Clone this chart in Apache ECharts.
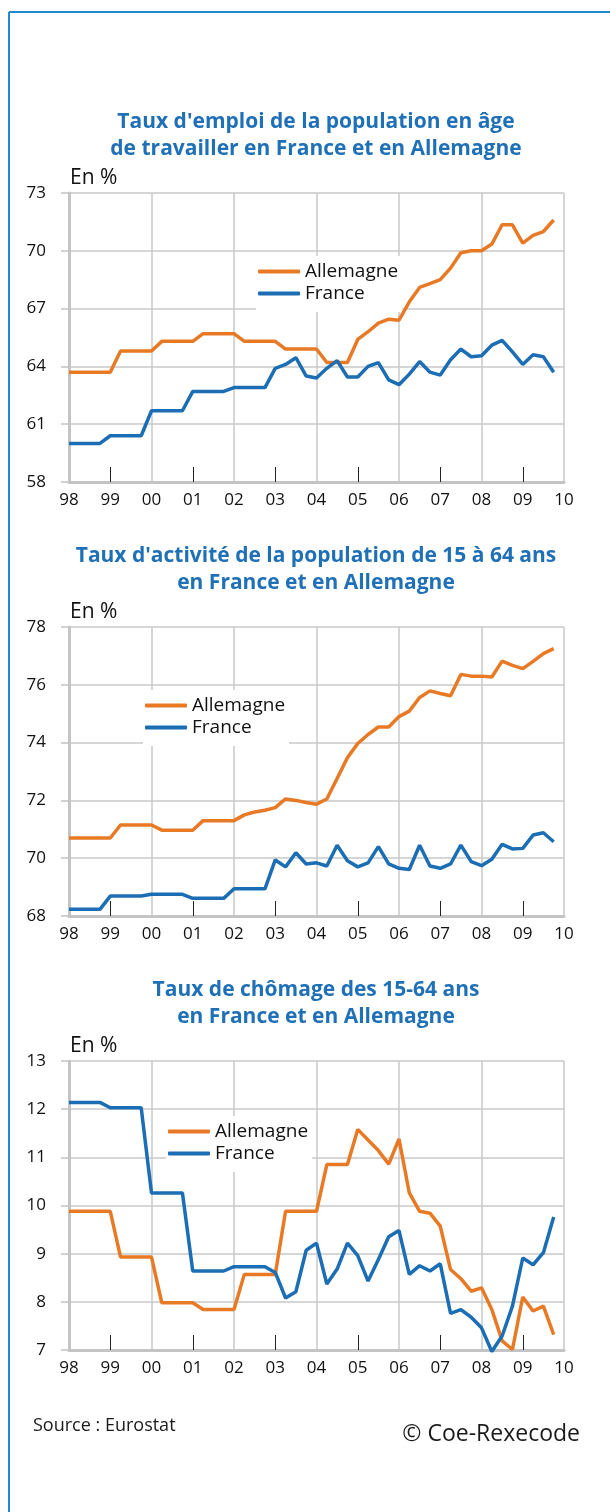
<!DOCTYPE html>
<html>
<head>
<meta charset="utf-8">
<script src="https://cdn.jsdelivr.net/npm/echarts@6/dist/echarts.min.js"></script>
<style>
  html, body { margin: 0; padding: 0; background: #fff; }
  #chart { width: 610px; height: 1512px; }
</style>
</head>
<body>
<div id="chart"></div>
<script>
// années affichées sur l'axe, données trimestrielles 1998T1 - 2009T4
var years = ['98', '99', '00', '01', '02', '03', '04', '05', '06', '07', '08', '09', '10'];

// Taux d'emploi 15-64 ans
var emploiAllemagne = [63.7, 63.7, 63.7, 63.7, 63.7, 64.8, 64.8, 64.8, 64.8, 65.3, 65.3, 65.3,
    65.3, 65.7, 65.7, 65.7, 65.7, 65.3, 65.3, 65.3, 65.3, 64.9, 64.9, 64.9,
    64.9, 64.2, 64.2, 64.2, 65.4, 65.8, 66.25, 66.45, 66.4, 67.35, 68.1, 68.3,
    68.5, 69.1, 69.9, 70.0, 70.0, 70.35, 71.35, 71.35, 70.4, 70.8, 71.0, 71.6];
var emploiFrance = [60.0, 60.0, 60.0, 60.0, 60.4, 60.4, 60.4, 60.4, 61.7, 61.7, 61.7, 61.7,
    62.7, 62.7, 62.7, 62.7, 62.9, 62.9, 62.9, 62.9, 63.9, 64.1, 64.45, 63.5,
    63.4, 63.9, 64.3, 63.45, 63.45, 64.0, 64.2, 63.3, 63.05, 63.6, 64.25, 63.7,
    63.55, 64.35, 64.9, 64.5, 64.55, 65.1, 65.35, 64.75, 64.1, 64.6, 64.5, 63.7];

// Taux d'activité 15-64 ans
var activiteAllemagne = [70.7, 70.7, 70.7, 70.7, 70.7, 71.15, 71.15, 71.15, 71.15, 70.97, 70.97, 70.97,
    70.97, 71.3, 71.3, 71.3, 71.3, 71.5, 71.6, 71.66, 71.75, 72.05, 72.0, 71.93,
    71.87, 72.05, 72.76, 73.48, 73.97, 74.28, 74.54, 74.54, 74.9, 75.09, 75.56, 75.79,
    75.7, 75.62, 76.36, 76.3, 76.3, 76.27, 76.82, 76.67, 76.56, 76.81, 77.08, 77.25];
var activiteFrance = [68.23, 68.23, 68.23, 68.23, 68.69, 68.69, 68.69, 68.69, 68.75, 68.75, 68.75, 68.75,
    68.61, 68.61, 68.61, 68.61, 68.94, 68.94, 68.94, 68.94, 69.94, 69.7, 70.19, 69.8,
    69.84, 69.73, 70.45, 69.91, 69.7, 69.84, 70.4, 69.8, 69.65, 69.61, 70.45, 69.73,
    69.65, 69.8, 70.45, 69.88, 69.74, 69.96, 70.48, 70.32, 70.34, 70.8, 70.88, 70.57];

// Taux de chômage 15-64 ans
var chomageAllemagne = [9.88, 9.88, 9.88, 9.88, 9.88, 8.93, 8.93, 8.93, 8.93, 7.98, 7.98, 7.98,
    7.98, 7.84, 7.84, 7.84, 7.84, 8.57, 8.57, 8.57, 8.57, 9.88, 9.88, 9.88,
    9.88, 10.85, 10.85, 10.85, 11.58, 11.36, 11.14, 10.86, 11.38, 10.26, 9.88, 9.84,
    9.57, 8.67, 8.48, 8.22, 8.29, 7.84, 7.19, 7.01, 8.1, 7.81, 7.91, 7.32];
var chomageFrance = [12.14, 12.14, 12.14, 12.14, 12.03, 12.03, 12.03, 12.03, 10.26, 10.26, 10.26, 10.26,
    8.64, 8.64, 8.64, 8.64, 8.73, 8.73, 8.73, 8.73, 8.61, 8.08, 8.21, 9.07,
    9.22, 8.37, 8.68, 9.22, 8.96, 8.43, 8.88, 9.35, 9.48, 8.57, 8.75, 8.64,
    8.79, 7.76, 7.84, 7.68, 7.46, 6.97, 7.29, 7.91, 8.91, 8.77, 9.02, 9.76];

var titles = [
    "Taux d'emploi de la population en âge\nde travailler en France et en Allemagne",
    "Taux d'activité de la population de 15 à 64 ans\nen France et en Allemagne",
    "Taux de chômage des 15-64 ans\nen France et en Allemagne"
];

// categories trimestrielles
var quarters = [];
years.forEach(function (y, i) {
    quarters.push(y);
    if (i < years.length - 1) quarters.push(y + 'T2', y + 'T3', y + 'T4');
});

var ORANGE = '#e87a26';
var BLUE = '#1b6db4';
var TITLE_BLUE = '#1f70b6';
var GRID_GREY = '#c9c9c9';
var FONT = '"Open Sans", sans-serif';

var gridTops = [193, 627, 1061];
var gridH = 289;
var legendPos = [[256, 256], [143, 690], [166, 1116]];

function makeX(idx) {
    return {
        type: 'category', gridIndex: idx, data: quarters, boundaryGap: false,
        axisLine: { lineStyle: { color: '#c4c4c4', width: 3 } },
        axisTick: {
            inside: true, length: 15,
            interval: function (i) { return i % 8 === 4; },
            lineStyle: { color: '#222', width: 1 }
        },
        axisLabel: {
            interval: function (i) { return i % 4 === 0; },
            margin: 10, color: '#111', fontSize: 17, fontFamily: FONT
        },
        splitLine: {
            show: true,
            interval: function (i) { return i % 8 === 0; },
            lineStyle: { color: GRID_GREY, width: 1.5 }
        }
    };
}

function makeY(idx, min, max, step) {
    return {
        type: 'value', gridIndex: idx, min: min, max: max, interval: step,
        axisLine: { show: true, lineStyle: { color: '#c4c4c4', width: 3 } },
        axisTick: { show: true, length: 8, lineStyle: { color: '#c4c4c4', width: 1.5 } },
        axisLabel: { margin: 23, color: '#111', fontSize: 17, fontFamily: FONT },
        splitLine: { lineStyle: { color: GRID_GREY, width: 1.5 } }
    };
}

function makeSeries(name, data, idx, color) {
    return {
        name: name, type: 'line', data: data,
        xAxisIndex: idx, yAxisIndex: idx,
        symbol: 'none', clip: false,
        lineStyle: { color: color, width: 3.5 },
        itemStyle: { color: color },
        z: 6
    };
}

var graphics = [
    { type: 'line', shape: { x1: 9, y1: 12, x2: 610, y2: 12 }, style: { stroke: '#2188d2', lineWidth: 2 } },
    { type: 'line', shape: { x1: 9, y1: 12, x2: 9, y2: 1512 }, style: { stroke: '#2188d2', lineWidth: 2 } },
    { type: 'text', left: 33, top: 1417, style: { text: 'Source : Eurostat', font: '18px ' + FONT, fill: '#1a1a1a' } },
    { type: 'text', right: 30, top: 1423, style: { text: '© Coe-Rexecode', font: '23px ' + FONT, fill: '#1a1a1a' } }
];
titles.forEach(function (t, i) {
    graphics.push({
        type: 'text', x: 316, y: gridTops[i] - 84,
        style: { text: t, font: 'bold 21px ' + FONT, fill: TITLE_BLUE, textAlign: 'center', lineHeight: 27 }
    });
    graphics.push({
        type: 'text', x: 70, y: gridTops[i] - 25,
        style: { text: 'En %', font: '21px ' + FONT, fill: '#111' }
    });
});

var option = {
    animation: false,
    backgroundColor: '#fff',
    grid: gridTops.map(function (t) { return { left: 69, right: 46, top: t, height: gridH }; }),
    xAxis: [makeX(0), makeX(1), makeX(2)],
    yAxis: [makeY(0, 58, 73, 3), makeY(1, 68, 78, 2), makeY(2, 7, 13, 1)],
    legend: legendPos.map(function (p) {
        return {
            orient: 'vertical', left: p[0], top: p[1],
            data: ['Allemagne', 'France'],
            icon: 'roundRect', itemWidth: 42, itemHeight: 4, itemGap: 1,
            padding: [5, 4, 8, 2],
            backgroundColor: '#fff',
            selectedMode: false,
            textStyle: { fontSize: 19, fontFamily: FONT, color: '#111', lineHeight: 21 }
        };
    }),
    series: [
        makeSeries('Allemagne', emploiAllemagne, 0, ORANGE),
        makeSeries('France', emploiFrance, 0, BLUE),
        makeSeries('Allemagne', activiteAllemagne, 1, ORANGE),
        makeSeries('France', activiteFrance, 1, BLUE),
        makeSeries('Allemagne', chomageAllemagne, 2, ORANGE),
        makeSeries('France', chomageFrance, 2, BLUE)
    ],
    graphic: graphics
};

var myChart = echarts.init(document.getElementById('chart'));
myChart.setOption(option);
</script>
</body>
</html>
